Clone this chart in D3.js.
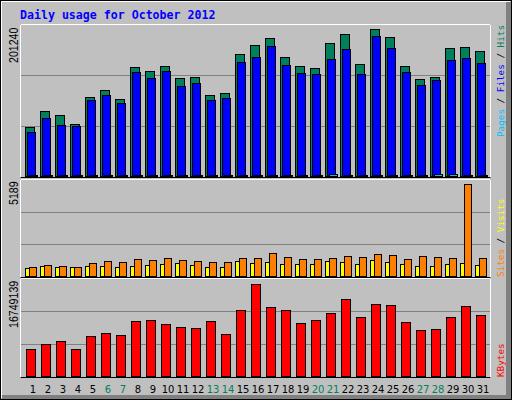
<!DOCTYPE html>
<html>
<head>
<meta charset="utf-8">
<script src="https://cdn.jsdelivr.net/npm/d3@7"></script>
<style>
  body { margin: 0; background: #fff; }
  svg { display: block; }
</style>
</head>
<body>
<svg id="chart" width="512" height="400"></svg>
<script>
// Daily values
const days = d3.range(1, 32);
const weekendDays = [6, 7, 13, 14, 20, 21, 27, 28];
const hits = [67100, 89000, 83500, 71200, 108200, 117700, 105400, 149200, 143700, 150600, 134200, 135500, 110900, 113600, 167000, 179300, 188900, 162900, 150600, 147900, 182100, 194400, 153300, 201240, 190300, 150600, 132800, 135500, 175200, 176600, 171100];
const files = [60200, 79400, 69800, 68500, 104000, 110900, 99900, 142400, 134200, 143700, 123200, 127300, 104000, 106800, 156100, 162900, 178000, 152000, 141000, 139600, 160200, 173900, 139600, 191700, 175200, 142400, 124600, 131400, 158800, 161500, 154700];
const pages = [900, 900, 900, 900, 900, 900, 900, 900, 900, 900, 900, 900, 900, 900, 900, 900, 900, 900, 900, 900, 2600, 900, 900, 900, 900, 900, 900, 2600, 2600, 900, 900];
const visits = [489, 602, 545, 489, 714, 827, 771, 940, 884, 996, 884, 827, 771, 771, 996, 996, 1278, 1053, 940, 940, 996, 1109, 1053, 1222, 1166, 940, 1109, 1053, 996, 5189, 996];
const sites = [432, 545, 489, 489, 545, 545, 489, 545, 602, 658, 714, 602, 489, 489, 827, 714, 771, 658, 658, 658, 827, 771, 658, 884, 771, 658, 545, 545, 658, 714, 602];
const kbytes = [4829000, 5746000, 6296000, 4829000, 7213000, 7763000, 7396000, 9964000, 10147000, 9414000, 8864000, 8680000, 9964000, 7580000, 11981000, 16749139, 12531000, 11981000, 9597000, 10147000, 11431000, 13998000, 10697000, 13081000, 12898000, 9780000, 8313000, 8497000, 10697000, 12715000, 11064000];

const svg = d3.select('#chart');
const mono = 'DejaVu Sans Mono, monospace';

// Frame
svg.append('rect').attr('x', 0).attr('y', 0).attr('width', 512).attr('height', 400).attr('fill', '#c0c0c0');
svg.append('rect').attr('x', 506).attr('y', 2).attr('width', 5).attr('height', 397).attr('fill', '#808080');
svg.append('rect').attr('x', 2).attr('y', 395).attr('width', 509).attr('height', 4).attr('fill', '#808080');
svg.append('path').attr('d', 'M1.5,398V1.5H510').attr('stroke', '#fff').attr('fill', 'none');
svg.append('rect').attr('x', 0.5).attr('y', 0.5).attr('width', 511).attr('height', 399)
    .attr('fill', 'none').attr('stroke', '#000');

svg.append('text').attr('x', 20).attr('y', 19)
    .attr('font-family', mono).attr('font-weight', 'bold').attr('font-size', '11.6px')
    .attr('fill', '#0000ff').text('Daily usage for October 2012');

const x = d3.scaleLinear().domain([1, 31]).range([25, 475]);

// Panels
const panels = [
    { top: 25, bottom: 176, max: 201240 * 151 / 147, label: '201240', labelY: 63 },
    { top: 180, bottom: 276, max: 5189 * 96 / 92, label: '5189', labelY: 205 },
    { top: 279, bottom: 376, max: 16749139 * 97 / 92, label: '16749139', labelY: 328 }
];

panels.forEach((p, i) => {
    const g = svg.append('g');
    g.append('rect').attr('x', 20.5).attr('y', p.top - 0.5).attr('width', 470).attr('height', p.bottom - p.top + 2)
        .attr('fill', '#c0c0c0').attr('stroke', '#000');
    g.append('path').attr('d', `M20.5,${p.bottom + 1.5}V${p.top - 0.5}H490.5V${p.bottom + 1.5}`)
        .attr('stroke', '#fff').attr('fill', 'none');
    p.y = d3.scaleLinear().domain([0, p.max]).range([p.bottom, p.top]);
    const grid = (p.bottom - p.top) / 3;
    [1, 2].forEach(k => {
        g.append('line').attr('x1', 21).attr('x2', 490)
            .attr('y1', Math.round(p.bottom - grid * k) + 0.5).attr('y2', Math.round(p.bottom - grid * k) + 0.5)
            .attr('stroke', '#808080');
    });
    g.append('text').attr('transform', `translate(18,${p.labelY}) rotate(-90)`)
        .attr('font-family', 'Liberation Sans, sans-serif').attr('font-size', '12px')
        .attr('textLength', p.label.length * 5.9).attr('lengthAdjust', 'spacingAndGlyphs')
        .attr('fill', '#000').text(p.label);
});

function bars(panel, values, dx, w, color) {
    svg.append('g').selectAll('rect').data(values).enter().append('rect')
        .attr('x', (d, i) => x(days[i]) + dx + 0.5)
        .attr('y', d => Math.round(panel.y(d)) + 0.5)
        .attr('width', w)
        .attr('height', d => Math.max(1, panel.bottom - Math.round(panel.y(d))))
        .attr('fill', color).attr('stroke', '#000');
}

bars(panels[0], hits, 0, 9, '#00805c');
bars(panels[0], files, 2, 8, '#0000ff');
bars(panels[0], pages, 4, 8, '#00c0ff');
bars(panels[1], sites, 0, 5, '#ffff00');
bars(panels[1], visits, 4, 7, '#ff8000');
bars(panels[2], kbytes, 1, 9, '#ff0000');

// Day labels
svg.append('g').selectAll('text').data(days).enter().append('text')
    .attr('x', d => x(d) + 8).attr('y', 393)
    .attr('text-anchor', 'middle')
    .attr('font-family', 'DejaVu Sans, sans-serif').attr('font-size', '10px')
    .attr('fill', d => weekendDays.includes(d) ? '#00805c' : '#000')
    .text(d => d);

// Right-side legends
function legend(parts, yBottom) {
    const t = svg.append('text').attr('transform', `translate(504,${yBottom}) rotate(-90)`)
        .attr('font-family', mono).attr('font-size', '9.3px');
    parts.forEach(([s, c]) => t.append('tspan').attr('fill', c).text(s));
}
legend([['Pages', '#00c0ff'], [' / ', '#000'], ['Files', '#0000ff'], [' / ', '#000'], ['Hits', '#00805c']], 137);
legend([['Sites', '#ff8000'], [' / ', '#000'], ['Visits', '#ffff00']], 277);
legend([['KBytes', '#ff0000']], 377);
</script>
</body>
</html>
